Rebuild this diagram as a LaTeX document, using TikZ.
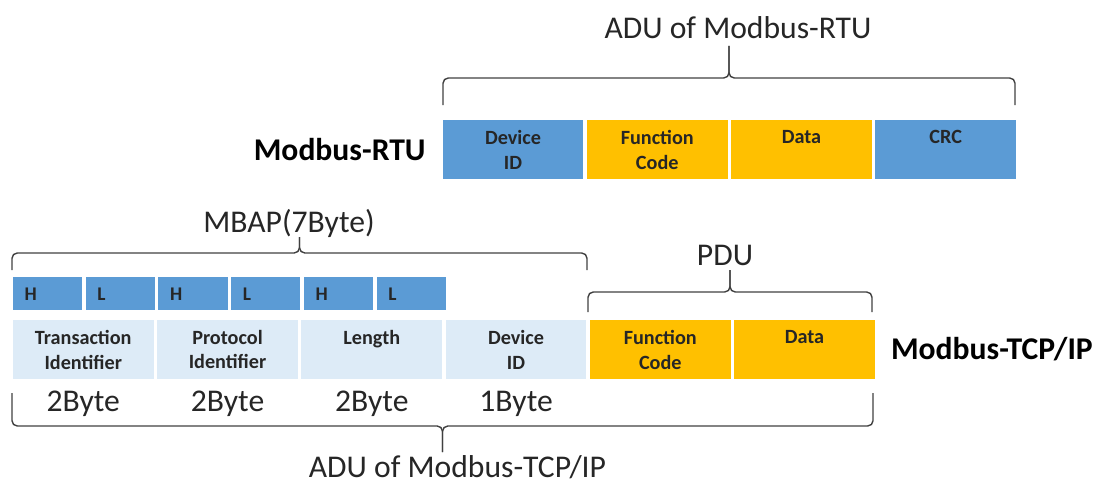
\documentclass[tikz,border=0pt]{standalone}
\usepackage{fontspec}
\setmainfont{Carlito}
\usetikzlibrary{positioning, calc}
\definecolor{mbblue}{RGB}{91,155,213}
\definecolor{mbyellow}{RGB}{255,192,0}
\definecolor{mblight}{RGB}{221,235,247}
\definecolor{mbtext}{RGB}{38,38,38}

\tikzset{
  cell/.style={minimum width=2.85cm, minimum height=1.22cm, inner sep=0, draw=white, line width=1pt,
    align=center, text=mbtext, font=\fontsize{11.5}{14.2}\selectfont\bfseries},
  bluecell/.style={cell, fill=mbblue},
  yellowcell/.style={cell, fill=mbyellow},
  lightcell/.style={cell, fill=mblight},
  halfcell/.style={minimum width=1.42cm, minimum height=0.7cm, inner xsep=0.25cm, inner ysep=0,
    text width=0.92cm, align=left, draw=white, line width=1pt, fill=mbblue, text=mbtext,
    font=\fontsize{11}{13}\selectfont\bfseries},
  bracket/.style={draw=black!75, line width=0.8pt, rounded corners=3pt},
  biglabel/.style={inner sep=0, text=black!85, font=\fontsize{18}{22}\selectfont},
  namelabel/.style={inner sep=0, text=black, font=\fontsize{18}{22}\selectfont\bfseries}
}

% x1, x2, y of the ends, y of the bar, y of the tip
\newcommand{\mbbracket}[5]{%
  \draw[bracket] (#1,#3) -- (#1,#4) -- ({(#1+#2)/2},#4) -- ({(#1+#2)/2},#5);
  \draw[bracket] (#2,#3) -- (#2,#4) -- ({(#1+#2)/2},#4) -- ({(#1+#2)/2},#5);}

\begin{document}
\begin{tikzpicture}
  \useasboundingbox (0,0) rectangle (21.98,9.72);

  % Modbus-RTU frame
  \node[bluecell] (rtuDev) at (10.26,6.73) {Device\\ID};
  \node[yellowcell, right=0pt of rtuDev] (rtuFc) {Function\\Code};
  \node[yellowcell, right=0pt of rtuFc] (rtuData) {Data\\\phantom{D}};
  \node[bluecell, right=0pt of rtuData] (rtuCrc) {CRC\\\phantom{C}};
  \node[namelabel, left=0.3cm of rtuDev] (rtuName) {Modbus-RTU};

  \mbbracket{8.86}{20.30}{7.62}{8.16}{8.80}
  \node[biglabel, anchor=base] (aduRtu) at (14.76,8.94) {ADU of Modbus-RTU};

  % Modbus-TCP/IP frame
  \node[lightcell] (tcpTrans) at (1.665,2.73) {Transaction\\Identifier};
  \node[lightcell, right=0pt of tcpTrans] (tcpProt) {Protocol\\Identifier};
  \node[lightcell, right=0pt of tcpProt] (tcpLen) {Length\\\phantom{L}};
  \node[lightcell, right=0pt of tcpLen] (tcpDev) {Device\\ID};
  \node[yellowcell, right=0pt of tcpDev] (tcpFc) {Function\\Code};
  \node[yellowcell, right=0pt of tcpFc] (tcpData) {Data\\\phantom{D}};
  \node[namelabel, right=0.28cm of tcpData] (tcpName) {Modbus-TCP/IP};

  % high / low bytes
  \node[halfcell, anchor=south west] (transH) at ($(tcpTrans.north west)+(0,0.12)$) {H};
  \node[halfcell, right=0pt of transH] (transL) {L};
  \node[halfcell, right=0pt of transL] (protH) {H};
  \node[halfcell, right=0pt of protH] (protL) {L};
  \node[halfcell, right=0pt of protL] (lenH) {H};
  \node[halfcell, right=0pt of lenH] (lenL) {L};

  % sizes
  \node[biglabel, anchor=base] (transSize) at ($(tcpTrans.south)-(0,0.62)$) {2Byte};
  \node[biglabel, anchor=base] (protSize) at ($(tcpProt.south)-(0,0.62)$) {2Byte};
  \node[biglabel, anchor=base] (lenSize) at ($(tcpLen.south)-(0,0.62)$) {2Byte};
  \node[biglabel, anchor=base] (devSize) at ($(tcpDev.south)-(0,0.62)$) {1Byte};

  \mbbracket{0.24}{11.74}{4.32}{4.66}{4.98}
  \node[biglabel, anchor=base] (mbap) at (5.78,5.08) {MBAP(7Byte)};

  \mbbracket{11.76}{17.44}{3.48}{3.88}{4.32}
  \node[biglabel, anchor=base] (pdu) at (14.5,4.42) {PDU};

  \mbbracket{0.24}{17.46}{1.86}{1.20}{0.68}
  \node[biglabel, anchor=base] (aduTcp) at (9.15,0.17) {ADU of Modbus-TCP/IP};
\end{tikzpicture}
\end{document}
